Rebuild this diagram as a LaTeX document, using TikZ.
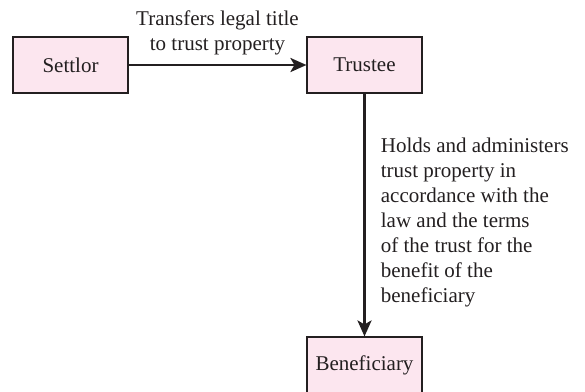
\documentclass[tikz,border=0pt]{standalone}
\usepackage{fontspec}
\setmainfont{Liberation Serif}
\usepackage{tikz}
\usetikzlibrary{arrows.meta}

\definecolor{boxpink}{HTML}{FCE6EF}
\definecolor{inkgray}{HTML}{231F20}

\begin{document}
\begin{tikzpicture}[->,>={Stealth[length=16pt,width=14pt,inset=4pt]},auto,x=1pt,y=-1pt,
  node distance=294pt,line width=2.8pt,draw=inkgray,text=inkgray,
  font=\fontsize{21}{25}\selectfont]
  \tikzstyle{party}=[draw=inkgray,fill=boxpink,line width=1.1pt,minimum width=115pt,minimum height=56pt]
  \useasboundingbox (0,0) rectangle (585,391);

  \node[party] (S) at (70.5,65) {Settlor};
  \node[party] (T) [right of=S] {Trustee};
  \node[party,node distance=300pt] (B) [below of=T] {Beneficiary};

  \path (S) edge node[align=center,inner sep=9pt] {Transfers legal title\\to trust property} (T)
        (T) edge node[align=left,inner sep=15pt,yshift=-7pt] {Holds and administers\\trust property in\\accordance with the\\law and the terms\\of the trust for the\\benefit of the\\beneficiary} (B);
\end{tikzpicture}
\end{document}
